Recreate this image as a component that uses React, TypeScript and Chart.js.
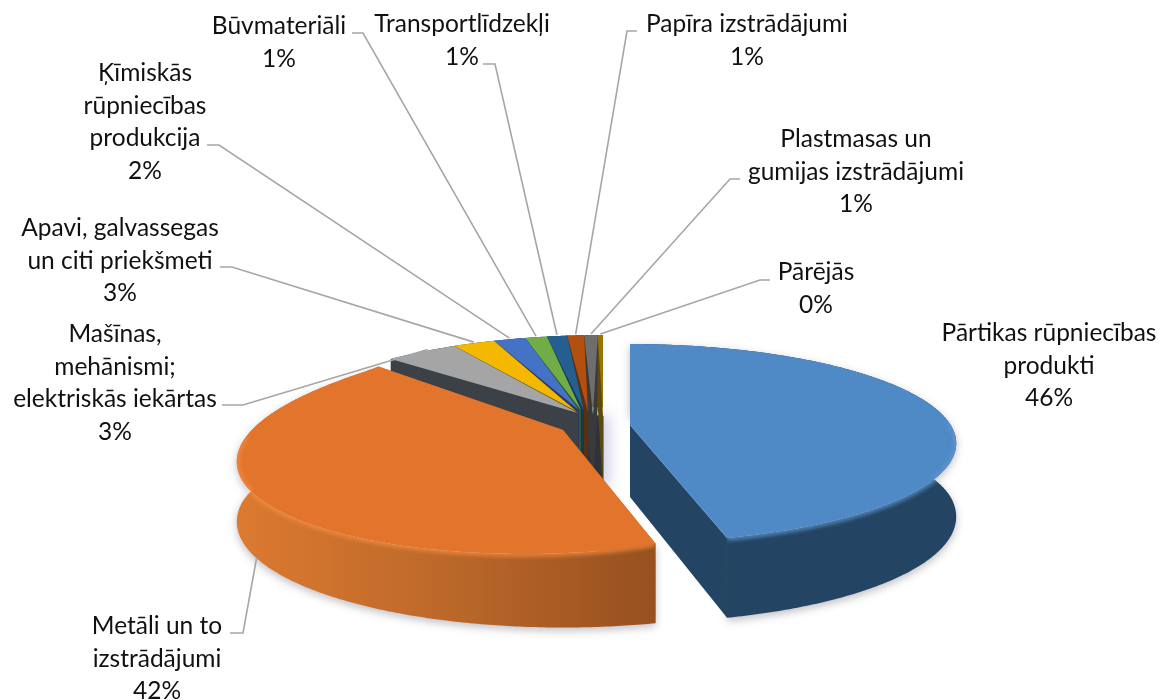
import React, { useEffect, useRef } from "react";
import { Chart, registerables } from "chart.js";

Chart.register(...registerables);

// ---------- data ----------
const categories = [
  "Pārtikas rūpniecības\nprodukti",
  "Metāli un to\nizstrādājumi",
  "Mašīnas,\nmehānismi;\nelektriskās iekārtas",
  "Apavi, galvassegas\nun citi priekšmeti",
  "Ķīmiskās\nrūpniecības\nprodukcija",
  "Būvmateriāli",
  "Transportlīdzekļi",
  "Papīra izstrādājumi",
  "Plastmasas un\ngumijas izstrādājumi",
  "Pārējās",
];
const shares = [46, 41.5, 3.49, 2.5, 1.9, 1.3, 1.2, 1, 0.8, 0.31];

// ---------- styling and layout ----------
const topColors = ["#4f89c6", "#e2752b", "#a5a5a5", "#f5b800", "#4472c4", "#70ad47", "#255e91", "#b3500f", "#6e6e6e", "#997300"];
const wallColors = ["#234463", "#b8642a", "#3c4148", "#5a4a10", "#2b3a66", "#2f5a2a", "#1c3550", "#5a3010", "#3a3a3a", "#5c4a10"];
const rimColors = ["#5f97cf", "#f28c42", "", "", "", "", "", "", "", ""];
const explodeDx = [27, -40, 0, 0, 0, 0, 0, 0, 0, 0];
const explodeDy = [7, 12, -2, -2, -2, -2, -2, -2, -2, -2];
const tipDx = [0, 0, -25, -27, -24, -22, -19, -15, -10, 0];
const tipDy = [0, 0, -3, -5, -6, -6, -5, -4, -2, 0];
// small drawing corrections of the perspective, in degrees / pixels
const startAdjust = [0, 0.7, -3, 0, 0, 0, 0, 0, 0, 0];
const endAdjust = [0, 4, 0, 0, 0, 0, 0, 0, 0, 0];
const rimSag = [0, 14, 0, 0, 0, 0, 0, 0, 0, 0];
const labelX = [1049, 157, 115, 120, 145, 279, 462, 747, 856, 816];
const labelY = [333, 626, 334, 228, 73, 26, 24, 24, 139, 272];
// elbow points of the leader lines: [x at the label, x at the bend, y]
const leaderElbows: (number[] | null)[] = [
  null,
  [230, 243, 633],
  [222, 243, 405],
  [220, 232, 267],
  [207, 219, 145],
  [352, 363, 33],
  [483, 495, 64],
  [637, 627, 31],
  [740, 730, 179],
  [770, 760, 280],
];
const RX = 1.137;
const RY = 0.34;
const PERSPECTIVE = 0.184;
const DEPTH = 72;
const FONT = '24.5px Lato, "Open Sans", sans-serif';
const LINE_HEIGHT = 32.6;

type P = { x: number; y: number; v: number; sag: number };

function project(el: any, i: number, theta: number): P {
  const u = Math.sin(theta);
  const v = -Math.cos(theta);
  const s = 1 / (1 - PERSPECTIVE * v);
  return {
    x: el.x + explodeDx[i] + el.outerRadius * RX * u * s,
    y: el.y + explodeDy[i] + el.outerRadius * RY * v * s,
    v,
    sag: 0,
  };
}
const lower = (p: P): P => ({ x: p.x, y: p.y - p.sag + DEPTH + 8 * Math.max(p.v, 0), v: p.v, sag: 0 });

function rimPoints(el: any, i: number) {
  const a0 = el.startAngle + Math.PI / 2 + (startAdjust[i] * Math.PI) / 180;
  const a1 = el.endAngle + Math.PI / 2 + (endAdjust[i] * Math.PI) / 180;
  const n = Math.max(2, Math.ceil((a1 - a0) / 0.01));
  const pts: P[] = [];
  for (let k = 0; k <= n; k++) {
    const p = project(el, i, a0 + ((a1 - a0) * k) / n);
    p.sag = rimSag[i] * Math.pow(Math.sin((Math.PI * k) / n), 0.7);
    p.y += p.sag;
    pts.push(p);
  }
  return pts;
}

function poly(ctx: CanvasRenderingContext2D, pts: { x: number; y: number }[]) {
  ctx.beginPath();
  pts.forEach((p, k) => (k ? ctx.lineTo(p.x, p.y) : ctx.moveTo(p.x, p.y)));
  ctx.closePath();
}

function drawCore(ctx: CanvasRenderingContext2D, arcs: any[]) {
  // dark centre where the small slices' walls meet
  const el = arcs[2];
  const c: P = { x: el.x + 0.5, y: el.y + explodeDy[2], v: 0, sag: 0 };
  const t: P = { x: el.x + tipDx[2], y: el.y + explodeDy[2] + tipDy[2], v: 0, sag: 0 };
  ctx.save();
  ctx.shadowColor = "rgba(120,120,190,0.35)";
  ctx.shadowBlur = 14;
  ctx.shadowOffsetX = 6;
  ctx.fillStyle = "#2e333a";
  poly(ctx, [t, c, lower(c), lower(t)]);
  ctx.fill();
  ctx.restore();
}

function drawSlice(ctx: CanvasRenderingContext2D, el: any, i: number) {
  const rim = rimPoints(el, i);
  const apex: P = { x: el.x + explodeDx[i] + tipDx[i], y: el.y + explodeDy[i] + tipDy[i], v: 0, sag: 0 };
  const first = rim[0];
  const last = rim[rim.length - 1];
  const exploded = i < 2;

  // cut walls
  ctx.fillStyle = wallColors[i];
  poly(ctx, [apex, last, lower(last), lower(apex)]);
  ctx.fill();
  poly(ctx, [apex, first, lower(first), lower(apex)]);
  ctx.fill();

  // outer wall
  const xs = rim.map((p) => p.x);
  const g = ctx.createLinearGradient(Math.min(...xs), 0, Math.max(...xs), 0);
  if (i === 1) {
    g.addColorStop(0, "#dc7a30");
    g.addColorStop(0.5, "#bc682a");
    g.addColorStop(1, "#97501f");
  } else {
    g.addColorStop(0, wallColors[i]);
    g.addColorStop(1, wallColors[i]);
  }
  const lowerRim = rim.map(lower).reverse();
  ctx.save();
  if (exploded) {
    ctx.shadowColor = "rgba(70,70,90,0.35)";
    ctx.shadowBlur = 9;
    ctx.shadowOffsetY = 3;
  }
  ctx.fillStyle = g;
  poly(ctx, [...rim, ...lowerRim]);
  ctx.fill();
  ctx.restore();

  // top face
  ctx.fillStyle = topColors[i];
  poly(ctx, [apex, ...rim]);
  ctx.fill();

  // soft rounded bevel along the visible rim, kept inside the solid
  if (exploded) {
    const front = rim.filter((p) => p.v > -0.05);
    ctx.save();
    poly(ctx, [apex, ...rim, ...lowerRim, first]);
    ctx.clip();
    ctx.filter = "blur(2px)";
    ctx.lineJoin = "round";
    ctx.strokeStyle = rimColors[i];
    ctx.lineWidth = 5;
    ctx.globalAlpha = 0.85;
    ctx.beginPath();
    front.forEach((p, k) => (k ? ctx.lineTo(p.x, p.y) : ctx.moveTo(p.x, p.y)));
    ctx.stroke();
    ctx.restore();
  }
}

const pie3d = {
  id: "pie3d",
  beforeDatasetDraw(chart: any) {
    const ctx: CanvasRenderingContext2D = chart.ctx;
    const arcs = chart.getDatasetMeta(0).data;
    ctx.save();
    drawCore(ctx, arcs);
    // back slices first, the two exploded ones last
    for (let i = arcs.length - 1; i >= 2; i--) drawSlice(ctx, arcs[i], i);
    drawSlice(ctx, arcs[1], 1);
    drawSlice(ctx, arcs[0], 0);
    ctx.restore();
    return false;
  },
  afterDraw(chart: any) {
    const ctx: CanvasRenderingContext2D = chart.ctx;
    const arcs = chart.getDatasetMeta(0).data;
    const total = shares.reduce((a, b) => a + b, 0);
    ctx.save();
    ctx.strokeStyle = "#a6a6a6";
    ctx.lineWidth = 1.6;
    arcs.forEach((el: any, i: number) => {
      const e = leaderElbows[i];
      if (!e) return;
      const mid = (el.startAngle + el.endAngle) / 2 + Math.PI / 2;
      const end = project(el, i, mid);
      const endY = i === 1 ? lower(end).y : end.y;
      ctx.beginPath();
      ctx.moveTo(e[0], e[2]);
      ctx.lineTo(e[1], e[2]);
      ctx.lineTo(end.x, endY - (i === 1 ? 0 : 1));
      ctx.stroke();
    });
    ctx.fillStyle = "#111";
    ctx.font = FONT;
    ctx.textAlign = "center";
    ctx.textBaseline = "middle";
    categories.forEach((name, i) => {
      const lines = [...name.split("\n"), `${Math.round((shares[i] / total) * 100)}%`];
      lines.forEach((t, k) => ctx.fillText(t, labelX[i], labelY[i] + k * LINE_HEIGHT));
    });
    ctx.restore();
  },
};

export default function App() {
  const ref = useRef<HTMLCanvasElement>(null);
  useEffect(() => {
    document.body.style.margin = "0";
    document.body.style.background = "#fff";
    const chart = new Chart(ref.current as HTMLCanvasElement, {
      type: "pie",
      data: {
        labels: categories.map((c) => c.replace(/\n/g, " ")),
        datasets: [{ data: shares, backgroundColor: topColors, borderWidth: 0 }],
      },
      options: {
        responsive: false,
        animation: false,
        rotation: 0,
        layout: { padding: { top: 136, left: 321, right: 277, bottom: 0 } },
        plugins: { legend: { display: false }, tooltip: { enabled: false } },
      },
      plugins: [pie3d as any],
    });
    return () => chart.destroy();
  }, []);
  return (
    <div style={{ width: 1162, height: 700 }}>
      <canvas ref={ref} width={1162} height={700} style={{ display: "block" }} />
    </div>
  );
}
